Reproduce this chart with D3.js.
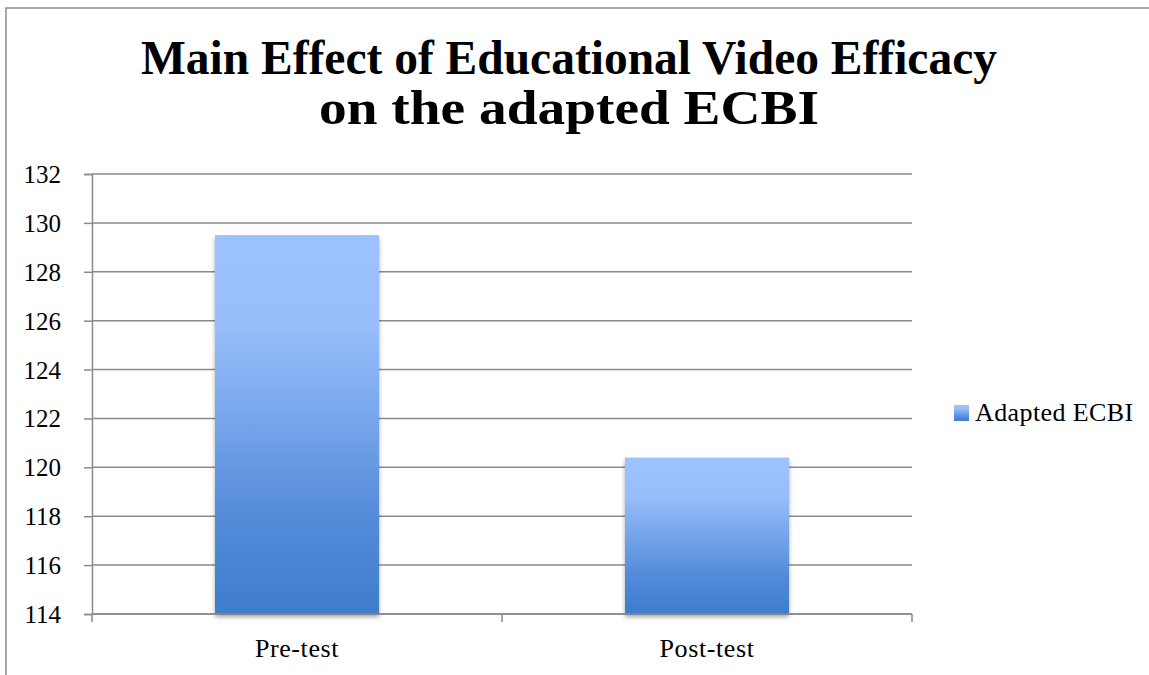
<!DOCTYPE html>
<html>
<head>
<meta charset="utf-8">
<script src="https://cdn.jsdelivr.net/npm/d3@7"></script>
<style>
  body { margin: 0; background: #fff; }
  text { font-family: "Liberation Serif", "DejaVu Serif", serif; fill: #000; }
</style>
</head>
<body>
<div class="chart"></div>
<script>
// data
var categories = ["Pre-test", "Post-test"];
var values = [129.5, 120.4];
var seriesName = "Adapted ECBI";
var yTicks = [114, 116, 118, 120, 122, 124, 126, 128, 130, 132];
var titleLines = ["Main Effect of Educational Video Efficacy", "on the adapted ECBI"];

var width = 1149;
var height = 675;
var margin = {top: 174, right: 237, bottom: 61, left: 92};
var plotW = width - margin.left - margin.right;
var plotH = height - margin.top - margin.bottom;

var svg = d3.select('.chart')
    .append('svg')
    .attr('width', width)
    .attr('height', height);

var defs = svg.append('defs');
var grad = defs.append('linearGradient')
    .attr('id', 'barGrad')
    .attr('x1', 0).attr('y1', 0).attr('x2', 0).attr('y2', 1);
grad.append('stop').attr('offset', '0%').attr('stop-color', '#9dc3ff');
grad.append('stop').attr('offset', '25%').attr('stop-color', '#97bdfa');
grad.append('stop').attr('offset', '75%').attr('stop-color', '#538bd9');
grad.append('stop').attr('offset', '100%').attr('stop-color', '#3d7dcc');

var shadow = defs.append('filter')
    .attr('id', 'shadow')
    .attr('x', '-10%').attr('y', '-10%').attr('width', '120%').attr('height', '120%');
shadow.append('feDropShadow')
    .attr('dx', 0).attr('dy', 3)
    .attr('stdDeviation', 2)
    .attr('flood-color', '#000')
    .attr('flood-opacity', 0.35);

// outer frame (runs past right and bottom edges)
svg.append('path')
    .attr('d', 'M6,' + (height + 5) + 'V8H' + (width + 5))
    .attr('fill', 'none')
    .attr('stroke', '#8c8c8c')
    .attr('stroke-width', 1.5);

// title
svg.selectAll('.title')
    .data(titleLines)
    .enter()
    .append('text')
    .attr('class', 'title')
    .attr('x', 569)
    .attr('y', (d, i) => 74 + i * 50)
    .attr('text-anchor', 'middle')
    .attr('font-size', 48)
    .attr('font-weight', 'bold')
    .attr('textLength', (d, i) => i == 0 ? 856 : 500)
    .attr('lengthAdjust', 'spacingAndGlyphs')
    .text(d => d);

var g = svg.append('g')
    .attr('transform', 'translate(' + margin.left + ',' + margin.top + ')');

// scales
var xscale = d3.scaleBand()
    .domain(categories)
    .range([0, plotW])
    .paddingInner(0.6)
    .paddingOuter(0.3);

var yscale = d3.scaleLinear()
    .domain([114, 132])
    .range([plotH, 0]);

// gridlines
g.selectAll('.grid')
    .data(yTicks)
    .enter()
    .append('line')
    .attr('x1', 0)
    .attr('x2', plotW)
    .attr('y1', d => yscale(d))
    .attr('y2', d => yscale(d))
    .attr('stroke', '#8a8a8a')
    .attr('stroke-width', 1.5);

// y axis
var yaxis = d3.axisLeft(yscale)
    .tickValues(yTicks)
    .tickSize(8)
    .tickPadding(23);
var yg = g.append('g').call(yaxis)
    .attr('font-family', null)
    .attr('font-size', null);
yg.select('.domain').attr('stroke', '#8a8a8a').attr('stroke-width', 1.5);
yg.selectAll('.tick line').attr('stroke', '#8a8a8a').attr('stroke-width', 1.5);
yg.selectAll('.tick text')
    .style('font-family', '"Liberation Serif", serif')
    .style('font-size', '25px')
    .attr('fill', '#000')
    .attr('dy', '0.34em');

// bars
g.selectAll('.bar')
    .data(values)
    .enter()
    .append('rect')
    .attr('class', 'bar')
    .attr('x', (d, i) => xscale(categories[i]))
    .attr('y', d => yscale(d))
    .attr('width', xscale.bandwidth())
    .attr('height', d => plotH - yscale(d))
    .attr('fill', 'url(#barGrad)')
    .attr('filter', 'url(#shadow)');

// x axis, ticks sit on band boundaries
var bounds = [0, plotW / 2, plotW];
g.selectAll('.xtick')
    .data(bounds)
    .enter()
    .append('line')
    .attr('x1', d => d).attr('x2', d => d)
    .attr('y1', plotH).attr('y2', plotH + 8)
    .attr('stroke', '#8a8a8a')
    .attr('stroke-width', 1.5);
g.append('line')
    .attr('x1', 0).attr('x2', plotW)
    .attr('y1', plotH).attr('y2', plotH)
    .attr('stroke', '#8a8a8a')
    .attr('stroke-width', 1.5);

g.selectAll('.xlabel')
    .data(categories)
    .enter()
    .append('text')
    .attr('x', d => xscale(d) + xscale.bandwidth() / 2)
    .attr('y', plotH + 43)
    .attr('text-anchor', 'middle')
    .attr('font-size', 26)
    .attr('letter-spacing', 0.6)
    .text(d => d);

// legend
var legend = svg.append('g')
    .attr('transform', 'translate(954,405)');
legend.append('rect')
    .attr('width', 15)
    .attr('height', 16)
    .attr('fill', 'url(#barGrad)');
legend.append('text')
    .attr('x', 21)
    .attr('y', 16)
    .attr('font-size', 26)
    .attr('letter-spacing', 0.4)
    .text(seriesName);
</script>
</body>
</html>
